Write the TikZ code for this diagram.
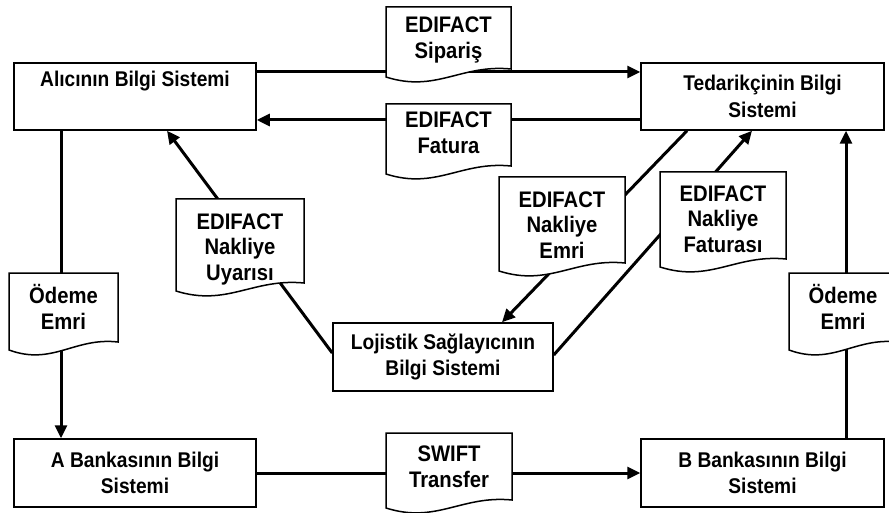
\documentclass[tikz,border=0pt]{standalone}
\usepackage{fontspec}
\setmainfont{Liberation Sans}[FakeStretch=0.9]
\usetikzlibrary{arrows.meta,calc}

\newcommand{\boxtxtfont}{\fontsize{21.3}{26.5}\selectfont\bfseries}
\newcommand{\doctxtfont}{\fontsize{22.5}{25.5}\selectfont\bfseries}

% document sheet with a wavy lower edge: left x, right x, top y, lower-left y
\newcommand{\docsheet}[4]{%
  \filldraw[sheet] (#1,#3) -- (#2,#3) -- (#2,{#4-8})
    .. controls ({#1+0.6*(#2-#1)},{#4-13}) and ({#1+0.4*(#2-#1)},{#4+16}) .. (#1,#4) -- cycle;}

\tikzset{
  sysbox/.style={draw, line width=1.5pt, fill=white, align=center, inner sep=0pt, font=\boxtxtfont},
  flow/.style={line width=3pt, -{Triangle[length=13pt,width=12pt]}},
  sheet/.style={draw=black, line width=1.5pt, fill=white},
  sheettext/.style={align=center, inner sep=0pt, font=\doctxtfont},
}

\begin{document}
\begin{tikzpicture}[x=1pt, y=-1pt]
  \useasboundingbox (0,0) rectangle (889,513);
  \fill[white] (0,0) rectangle (889,513);
  \clip (0,0) rectangle (889,513);

  % information systems
  \node[sysbox, minimum width=242pt, minimum height=67pt] (alici) at (135,96.5) {Alıcının Bilgi Sistemi\\\strut};
  \node[sysbox, minimum width=243pt, minimum height=67pt] (ted) at (762.5,96.5) {Tedarikçinin Bilgi\\Sistemi};
  \node[sysbox, minimum width=220pt, minimum height=68pt] (loj) at (443,357) {Lojistik Sağlayıcının\\Bilgi Sistemi};
  \node[sysbox, minimum width=242pt, minimum height=68pt] (abank) at (135,473) {A Bankasının Bilgi\\Sistemi};
  \node[sysbox, minimum width=243pt, minimum height=68pt] (bbank) at (762.5,473) {B Bankasının Bilgi\\Sistemi};

  % message flows
  \draw[flow] ([yshift=24.5pt]alici.east) -- ([yshift=24.5pt]ted.west);
  \draw[flow] ([yshift=-23.5pt]ted.west) -- ([yshift=-23.5pt]alici.east);
  \draw[flow] ([xshift=-74pt]alici.south) -- ([xshift=-74pt]abank.north);
  \draw[flow] ([xshift=83.5pt]bbank.north) -- ([xshift=83.5pt]ted.south);
  \draw[flow] (abank.east) -- (bbank.west);
  \draw[flow] ([yshift=4pt]loj.west) -- ([xshift=32pt]alici.south);
  \draw[flow] ([xshift=-75.5pt]ted.south) -- ([xshift=59pt]loj.north);
  \draw[flow] ([yshift=2pt]loj.east) -- ([xshift=-10.5pt]ted.south);

  % exchanged documents
  \docsheet{386}{511}{7}{77}
  \node[sheettext] (siparis) at (448.5,40) {EDIFACT\\Sipariş};
  \docsheet{386}{511}{104}{174}
  \node[sheettext] (fatura) at (448.5,133) {EDIFACT\\Fatura};
  \docsheet{176}{304}{199}{291}
  \node[sheettext] (uyari) at (240,249) {EDIFACT\\Nakliye\\Uyarısı};
  \docsheet{499}{625}{177}{271}
  \node[sheettext] (emir) at (562,225) {EDIFACT\\Nakliye\\Emri};
  \docsheet{660}{786}{172}{267}
  \node[sheettext] (nfatura) at (723,219) {EDIFACT\\Nakliye\\Faturası};
  \docsheet{9}{118}{273}{350}
  \node[sheettext] (odemeA) at (63.5,307) {Ödeme\\Emri};
  \docsheet{789}{898}{273}{350}
  \node[sheettext] (odemeB) at (843,307) {Ödeme\\Emri};
  \docsheet{386}{512}{433}{508}
  \node[sheettext] (swift) at (449,467) {SWIFT\\Transfer};
\end{tikzpicture}
\end{document}
